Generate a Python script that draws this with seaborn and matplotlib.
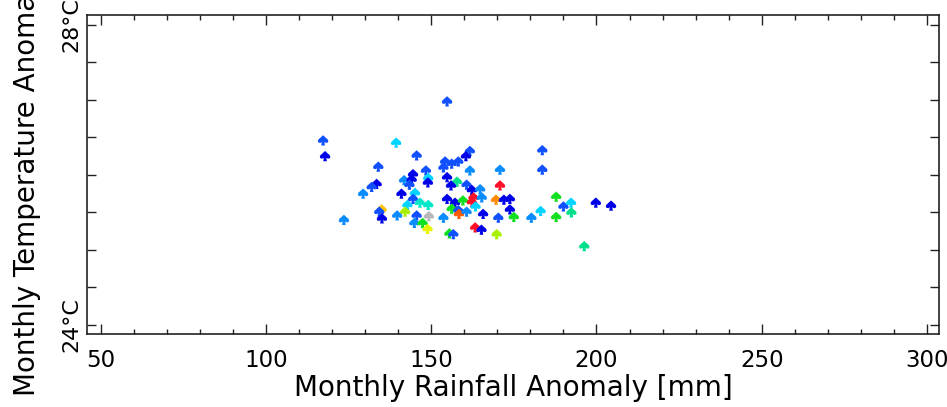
"""Monthly rainfall vs temperature anomaly scatter (spade markers)."""

import matplotlib

matplotlib.use("Agg")
import matplotlib.pyplot as plt
import numpy as np
import pandas as pd
import seaborn as sns
from matplotlib.path import Path
from matplotlib.ticker import FixedLocator, MultipleLocator

# rainfall anomaly [mm]
rainfall = [
    154.8, 117.3, 117.9, 139.4, 145.6, 161.7, 160.5, 183.6, 183.6, 134.0,
    154.2, 156.2, 158.2, 153.7, 161.7, 170.8, 148.4, 144.5, 141.8, 144.1,
    143.4, 149.1, 149.0, 154.8, 157.8, 156.0, 160.7, 162.3, 164.8, 170.8,
    133.5, 132.0, 129.4, 141.0, 145.1, 144.5, 154.8, 157.2, 159.6, 162.8,
    162.3, 165.3, 169.6, 172.0, 173.8, 187.8, 142.8, 146.6, 149.1, 135.0,
    134.3, 135.1, 142.1, 139.7, 145.6, 149.3, 153.7, 156.2, 158.2, 158.4,
    160.7, 163.4, 165.7, 170.3, 173.8, 175.0, 180.3, 183.1, 187.8, 190.0,
    192.3, 192.4, 199.8, 204.4, 123.6, 144.9, 147.4, 148.9, 155.5, 156.7,
    163.3, 165.2, 169.8, 196.3,
]

# temperature [deg C]
temperature = [
    26.98, 26.46, 26.25, 26.43, 26.26, 26.32, 26.25, 26.33, 26.07, 26.11,
    26.18, 26.15, 26.18, 26.10, 26.06, 26.07, 26.06, 26.01, 25.93, 25.94,
    25.87, 25.96, 25.90, 25.97, 25.91, 25.86, 25.87, 25.80, 25.81, 25.86,
    25.88, 25.84, 25.75, 25.75, 25.76, 25.68, 25.68, 25.63, 25.66, 25.70,
    25.64, 25.70, 25.67, 25.67, 25.68, 25.71, 25.60, 25.63, 25.60, 25.54,
    25.51, 25.42, 25.51, 25.46, 25.46, 25.45, 25.43, 25.55, 25.53, 25.48,
    25.51, 25.58, 25.48, 25.43, 25.54, 25.44, 25.43, 25.52, 25.44, 25.58,
    25.63, 25.50, 25.63, 25.59, 25.40, 25.36, 25.36, 25.28, 25.22, 25.21,
    25.30, 25.27, 25.21, 25.05,
]

# colour class of each point
color_class = [
    "B", "B", "DB", "CY", "B", "B", "DB", "B", "B", "B",
    "B", "B", "B", "B", "AZ", "AZ", "B", "DB", "AZ", "DB",
    "B", "CY", "DB", "DB", "SG", "DB", "B", "DB", "AZ", "R",
    "DB", "B", "AZ", "DB", "CY", "B", "DB", "DB", "G", "R",
    "R", "AZ", "O", "DB", "DB", "G", "CY", "CG", "CG", "GOLD",
    "B", "DB", "YG", "AZ", "B", "GR", "AZ", "G", "B", "OR",
    "AZ", "CY", "DB", "B", "DB", "G", "AZ", "CY", "G", "B",
    "CY", "SG", "DB", "DB", "AZ", "AZ", "G", "Y", "G", "B",
    "R", "DB", "YG", "SG",
]

class_colors = {
    "DB": "#0000e8", "B": "#1050ff", "AZ": "#0a8cff", "CY": "#00d4ff",
    "CG": "#00e8c8", "SG": "#00e08c", "G": "#10e020", "YG": "#a8f000",
    "Y": "#e8f400", "GOLD": "#ffc000", "O": "#ff8c00", "OR": "#ff5a00",
    "R": "#ff1028", "GR": "#b8b8b8",
}

x_ticks = [50, 100, 150, 200, 250, 300]
y_ticks = [24, 24.5, 25, 25.5, 26, 26.5, 27, 27.5, 28]
y_ticklabels = ["24°C", "", "", "", "", "", "", "", "28°C"]

# spade-like symbol used by the original plot
spade = Path([
    (0, 1), (0.45, 0.58), (0.88, 0.2), (1.0, -0.12), (0.86, -0.4),
    (0.52, -0.46), (0.24, -0.3), (0.34, -0.95), (-0.34, -0.95), (-0.24, -0.3),
    (-0.52, -0.46), (-0.86, -0.4), (-1.0, -0.12), (-0.88, 0.2), (-0.45, 0.58), (0, 1),
])


def main() -> None:
    sns.set_theme(style="white")
    plt.rcParams["font.family"] = ["DejaVu Sans"]

    df = pd.DataFrame({"rain": rainfall, "temp": temperature, "cls": color_class})

    fig = plt.figure(figsize=(9.47, 4.07), dpi=100)
    W, H = 947, 407
    left, right, top, bottom = 87, 939, 15, 334
    ax = fig.add_axes([left / W, (H - bottom) / H, (right - left) / W, (bottom - top) / H])

    sns.scatterplot(
        data=df, x="rain", y="temp", hue="cls", palette=class_colors,
        marker=spade, s=58, linewidth=0, edgecolor="none", legend=False, ax=ax,
    )

    ax.set_xlim(45.89, 303.6)
    ax.set_ylim(23.88, 28.133)

    ax.xaxis.set_major_locator(FixedLocator(x_ticks))
    ax.xaxis.set_minor_locator(MultipleLocator(10))
    ax.set_xticklabels([str(v) for v in x_ticks])
    ax.yaxis.set_major_locator(FixedLocator(y_ticks))
    ax.set_yticklabels(y_ticklabels, rotation=90, va="center")

    ax.tick_params(axis="x", which="major", direction="in", length=7.2, width=1.0,
                   top=True, bottom=True, labelsize=16.5, pad=11, color="#222222",
                   labelcolor="black")
    ax.tick_params(axis="x", which="minor", direction="in", length=3.8, width=1.0,
                   top=True, bottom=True, color="#222222")
    ax.tick_params(axis="y", which="major", direction="in", length=6.8, width=1.0,
                   left=True, right=True, labelsize=16, pad=4, color="#222222",
                   labelcolor="black")

    for sp in ax.spines.values():
        sp.set_color("#222222")
        sp.set_linewidth(1.2)

    ax.set_xlabel("Monthly Rainfall Anomaly [mm]", fontsize=20, labelpad=1, color="black")
    ax.set_ylabel("")
    fig.text(27 / W, (H - 396) / H, "Monthly Temperature Anomaly [°C]",
             rotation=90, ha="center", va="bottom", fontsize=20, color="black")

    fig.savefig("out.png", dpi=100)
    plt.close(fig)


if __name__ == "__main__":
    main()
